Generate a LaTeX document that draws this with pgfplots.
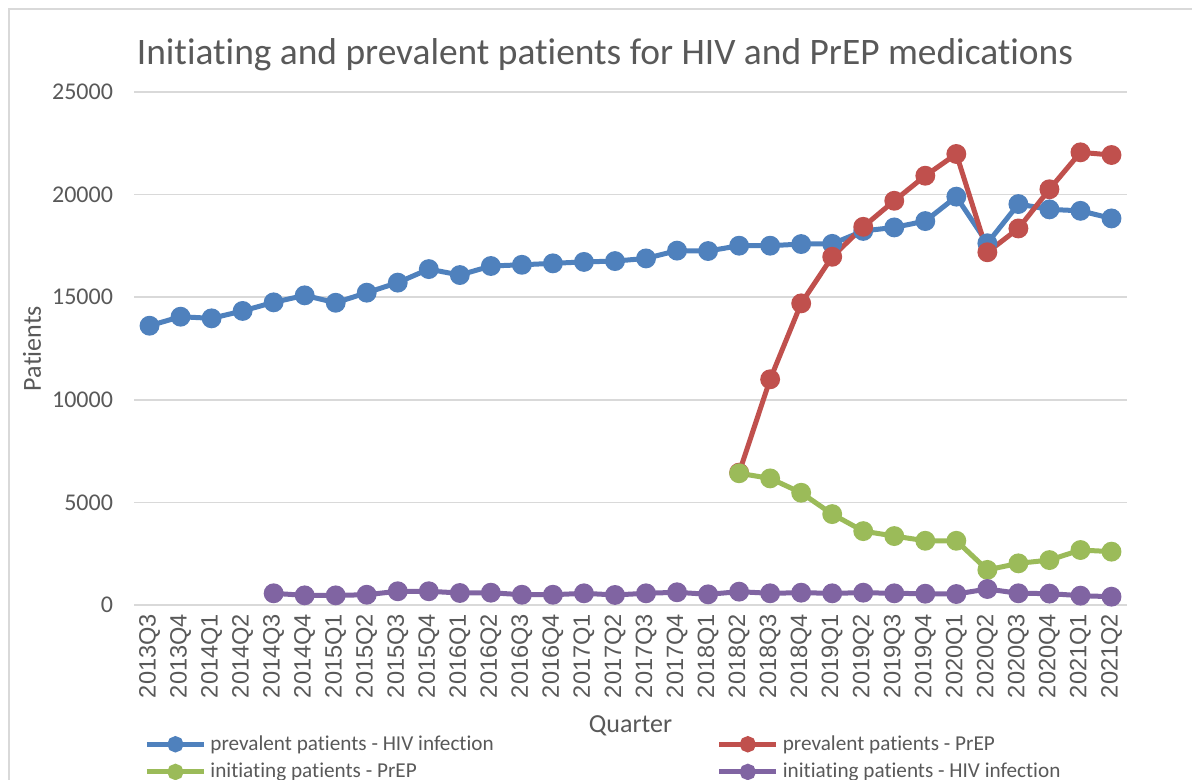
\documentclass[border=0pt]{standalone}
\usepackage{pgfplots}
\pgfplotsset{compat=1.18}
\usepackage{pgfplotstable}
\usepackage{fontspec}
\setmainfont{Carlito}[Ligatures=NoCommon]
\newfontfamily\tickfont{Liberation Sans}
\definecolor{cblue}{HTML}{4F81BD}
\definecolor{cred}{HTML}{C0504D}
\definecolor{cgreen}{HTML}{9BBB59}
\definecolor{cpurple}{HTML}{8064A2}
\definecolor{ctext}{HTML}{595959}
\definecolor{cgrid}{HTML}{D9D9D9}

\pgfplotstableread{
x y
0 13610
1 14050
2 13970
3 14330
4 14750
5 15090
6 14730
7 15220
8 15710
9 16370
10 16080
11 16520
12 16580
13 16650
14 16720
15 16760
16 16890
17 17270
18 17250
19 17510
20 17510
21 17590
22 17600
23 18230
24 18400
25 18710
26 19900
27 17630
28 19540
29 19280
30 19210
31 18840
}\prevhiv

\pgfplotstableread{
x y
19 6450
20 11000
21 14700
22 16970
23 18430
24 19700
25 20920
26 21980
27 17190
28 18350
29 20260
30 22060
31 21930
}\prevprep

\pgfplotstableread{
x y
19 6420
20 6170
21 5470
22 4430
23 3600
24 3360
25 3130
26 3130
27 1710
28 2030
29 2190
30 2680
31 2600
}\initprep

\pgfplotstableread{
x y
4 570
5 470
6 470
7 500
8 670
9 670
10 585
11 600
12 500
13 500
14 570
15 490
16 570
17 620
18 520
19 650
20 570
21 600
22 570
23 600
24 570
25 550
26 535
27 780
28 570
29 555
30 455
31 405
}\inithiv

\begin{document}
\begin{tikzpicture}
\clip (0,0) rectangle (596pt,-390pt);
\fill[white] (0,0) rectangle (596pt,-390pt);
\draw[cgrid, line width=0.8pt] (4.5pt,-500pt) -- (4.5pt,-4.5pt) -- (700pt,-4.5pt);
\begin{axis}[
  at={(67pt,-302.5pt)}, anchor=south west,
  scale only axis, width=496.5pt, height=256.5pt,
  xmin=-0.5, xmax=31.5, ymin=0, ymax=25000,
  xtick={0,...,31},
  xticklabels={2013Q3,2013Q4,2014Q1,2014Q2,2014Q3,2014Q4,2015Q1,2015Q2,2015Q3,2015Q4,2016Q1,2016Q2,2016Q3,2016Q4,2017Q1,2017Q2,2017Q3,2017Q4,2018Q1,2018Q2,2018Q3,2018Q4,2019Q1,2019Q2,2019Q3,2019Q4,2020Q1,2020Q2,2020Q3,2020Q4,2021Q1,2021Q2},
  ytick={0,5000,...,25000},
  scaled y ticks=false,
  /pgf/number format/1000 sep={},
  /pgf/number format/assume math mode=true,
  y tick label style={font=\fontsize{12}{14}\selectfont, color=ctext, xshift=-7pt},
  x tick label style={font=\tickfont\fontsize{11.8}{13}\selectfont, color=ctext, rotate=90, anchor=east, yshift=0pt, xshift=-1pt},
  axis line style={draw=none},
  major tick length=0pt,
  ymajorgrids, grid style={cgrid, line width=0.75pt},
  xlabel={Quarter}, ylabel={Patients},
  xlabel style={font=\fontsize{13}{15}\selectfont, color=ctext, at={(axis description cs:0.5,0)}, anchor=center, yshift=-60.5pt},
  ylabel style={font=\fontsize{13}{15}\selectfont, color=ctext, at={(axis description cs:0,0.5)}, anchor=center, yshift=51pt},
  title={Initiating and prevalent patients for HIV and PrEP medications},
  title style={font=\fontsize{18.7}{22}\selectfont, color=ctext, at={(axis description cs:0.4743,1.049)}, anchor=center},
  every axis plot/.append style={line width=2.5pt, mark=*, mark size=3.7pt},
  legend columns=2,
  legend cell align=left,
  legend style={draw=none, fill=none, at={(axis description cs:0.0101,-0.2456)}, anchor=north west,
    font=\fontsize{10.6}{12}\selectfont, text=ctext, inner sep=0pt, row sep=1pt,
    /tikz/every even column/.append style={column sep=109.5pt}},
  legend image code/.code={\draw[mark repeat=2, mark phase=2, #1, mark size=2.8pt, line width=2.5pt] plot coordinates {(0pt,0pt) (14.25pt,0pt) (28.5pt,0pt)};},
]
\addplot[cblue, mark options={fill=cblue, draw=cblue}] table {\prevhiv};
\addlegendentry{prevalent patients - HIV infection}
\addplot[cred, mark options={fill=cred, draw=cred}] table {\prevprep};
\addlegendentry{prevalent patients - PrEP}
\addplot[cgreen, mark options={fill=cgreen, draw=cgreen}] table {\initprep};
\addlegendentry{initiating patients - PrEP}
\addplot[cpurple, mark options={fill=cpurple, draw=cpurple}] table {\inithiv};
\addlegendentry{initiating patients - HIV infection}
\end{axis}
\end{tikzpicture}
\end{document}
